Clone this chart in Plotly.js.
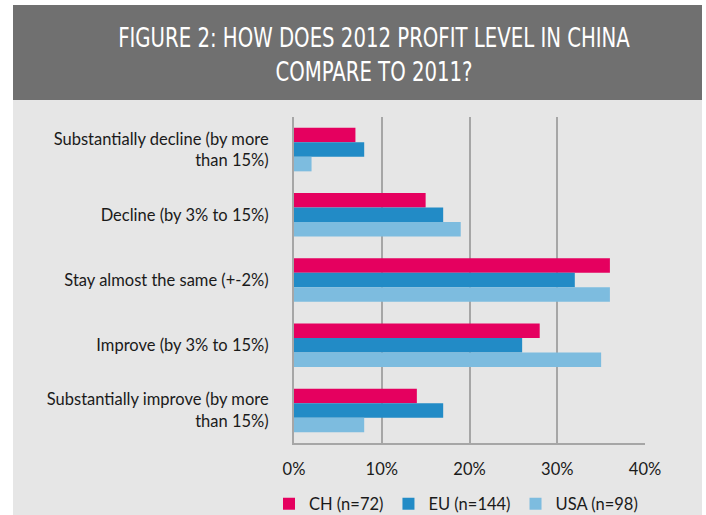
<!DOCTYPE html>
<html>
<head>
<meta charset="utf-8">
<script src="https://cdn.plot.ly/plotly-3.0.1.min.js"></script>
<style>
  html, body { margin: 0; padding: 0; background: #ffffff; }
  #chart { position: absolute; left: 13px; top: 5px; width: 689px; height: 510px; }
</style>
</head>
<body>
<div id="chart"></div>
<script>
// ---- data ----
const categories = [
  "Substantially decline (by more<br>than 15%)",
  "Decline (by 3% to 15%)",
  "Stay almost the same (+-2%)",
  "Improve (by 3% to 15%)",
  "Substantially improve (by more<br>than 15%)"
];
const seriesNames = ["CH (n=72)", "EU (n=144)", "USA (n=98)"];
const chValues  = [7, 15, 36, 28, 14];
const euValues  = [8, 17, 32, 26, 17];
const usaValues = [2, 19, 36, 35, 8];
const xTickValues = [0, 10, 20, 30, 40];
const xTickLabels = ["0%", "10%", "20%", "30%", "40%"];
const titleText = "FIGURE 2: HOW DOES 2012 PROFIT LEVEL IN CHINA<br>COMPARE TO 2011?";

// ---- layout constants ----
const W = 689, H = 510;
const M = { l: 281, r: 57, t: 112, b: 72, autoexpand: false };
const plotW = W - M.l - M.r, plotH = H - M.t - M.b;
const px2x = (px) => (px - M.l) / plotW;          // div px -> paper x
const py2y = (py) => (H - M.b - py) / plotH;      // div px -> paper y

const colors = ["#e5005f", "#228bc6", "#7dbcdf"];
const bodyFont = "Lato, 'Open Sans', sans-serif";
const gridColor = "#a6a6a6";

const allValues = [chValues, euValues, usaValues];
const traces = allValues.map((vals, i) => ({
  type: "bar",
  orientation: "h",
  name: seriesNames[i],
  y: categories,
  x: vals,
  marker: { color: colors[i] },
  hoverinfo: "x+name"
}));

const layout = {
  width: W, height: H,
  margin: M,
  paper_bgcolor: "#e6e6e6",
  plot_bgcolor: "#e6e6e6",
  barmode: "group",
  bargap: 0.333,
  bargroupgap: 0,
  showlegend: true,
  title: {
    text: titleText,
    font: { family: "'DejaVu Sans Condensed', sans-serif", size: 26, color: "#ffffff" },
    xref: "container", yref: "container",
    x: (374 - 13) / W, xanchor: "center",
    y: 1 - 42 / H, yanchor: "middle"
  },
  xaxis: {
    range: [0, 40],
    tickvals: xTickValues,
    ticktext: xTickLabels,
    tickangle: 0,
    showgrid: true,
    gridcolor: gridColor,
    gridwidth: 2,
    zeroline: false,
    showline: true,
    linecolor: gridColor,
    linewidth: 2,
    ticks: "",
    ticklabelstandoff: 10,
    tickfont: { family: bodyFont, size: 16.5, color: "#1a1a1a" },
    automargin: false,
    fixedrange: true
  },
  yaxis: {
    type: "category",
    autorange: "reversed",
    showgrid: false,
    zeroline: false,
    showline: true,
    linecolor: gridColor,
    linewidth: 2,
    ticks: "",
    ticklabelstandoff: 20,
    tickfont: { family: bodyFont, size: 16.5, color: "#1a1a1a" },
    automargin: false,
    fixedrange: true
  },
  legend: {
    orientation: "h",
    xref: "paper", yref: "paper",
    x: px2x(256), xanchor: "left",
    y: py2y(499), yanchor: "middle",
    font: { family: bodyFont, size: 16.5, color: "#1a1a1a" },
    bgcolor: "rgba(0,0,0,0)",
    traceorder: "normal",
    itemclick: false, itemdoubleclick: false
  },
  shapes: [{
    type: "rect", xref: "paper", yref: "paper", layer: "below",
    x0: px2x(0), x1: px2x(W), y0: py2y(95), y1: py2y(0),
    fillcolor: "#707070", line: { width: 0 }
  }]
};

Plotly.newPlot("chart", traces, layout, { displayModeBar: false, staticPlot: true }).then(gd => {
  // condense the banner title horizontally (mimics the narrow headline face)
  const t = gd.querySelector(".gtitle");
  if (t) {
    const bb = t.getBBox();
    const s = 512 / bb.width;
    const cx = bb.x + bb.width / 2;
    t.setAttribute("transform", `translate(${cx},0) scale(${s},1) translate(${-cx},0)`);
  }
});
</script>
</body>
</html>
